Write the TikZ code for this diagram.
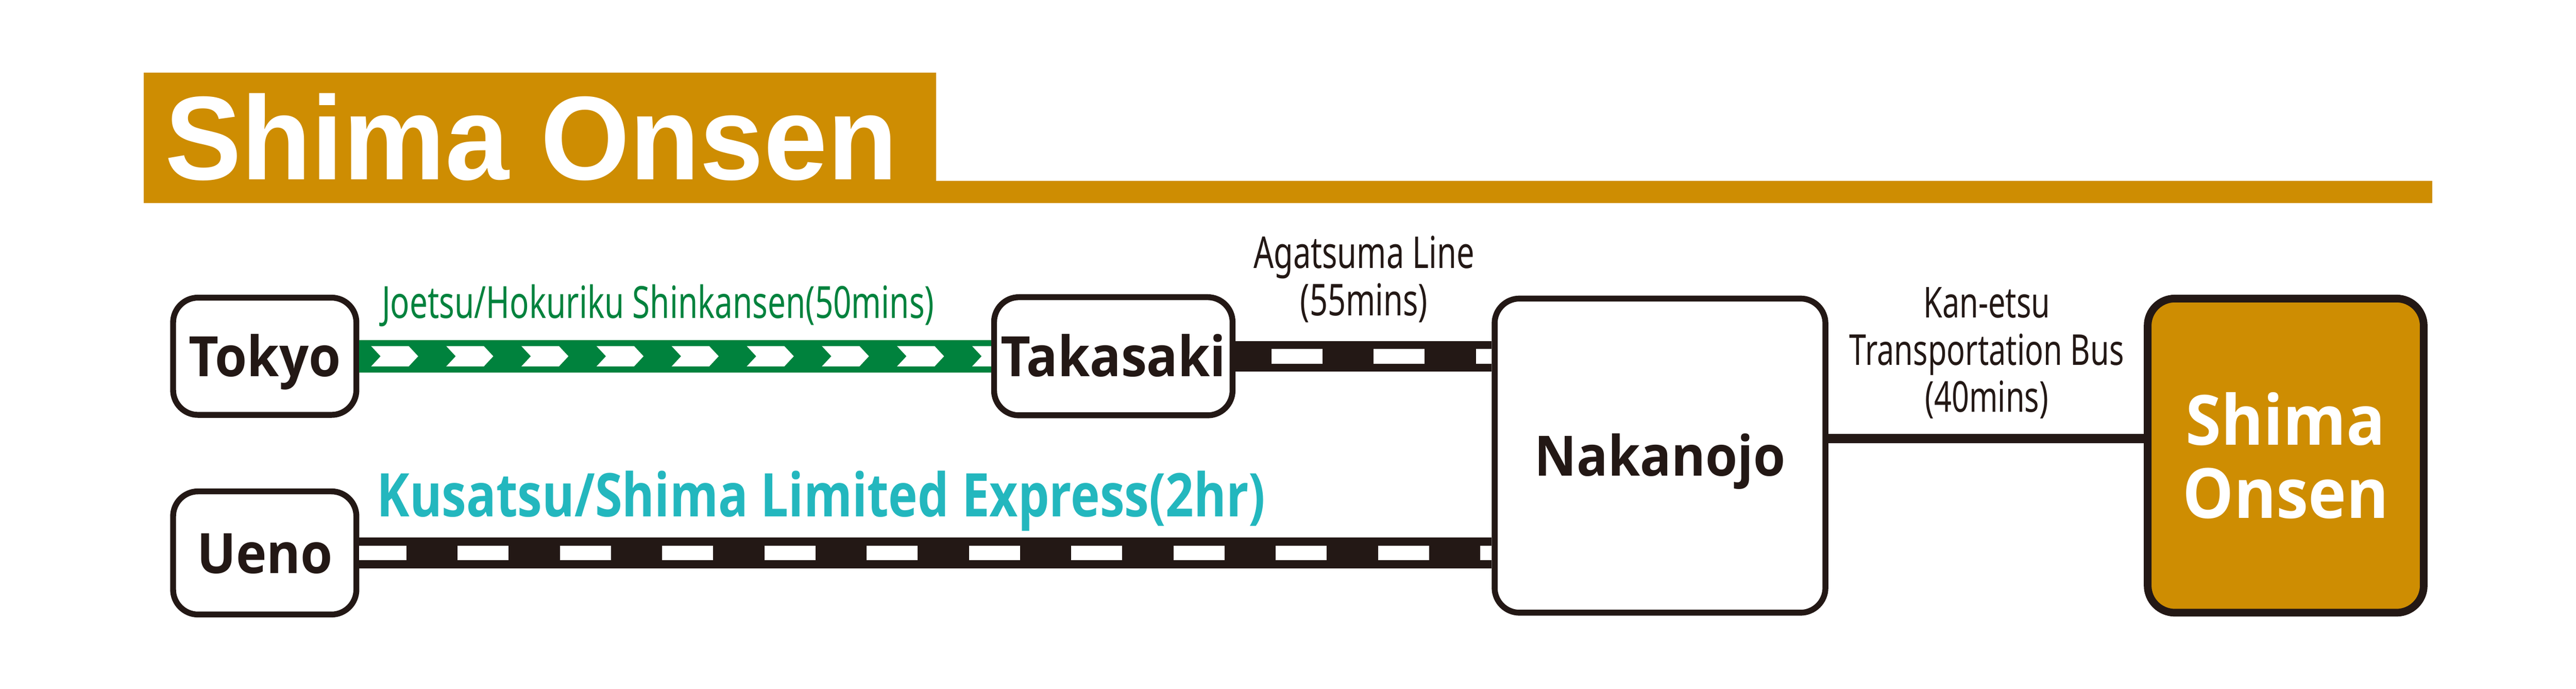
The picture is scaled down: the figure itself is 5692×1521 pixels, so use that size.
\documentclass[tikz,border=0pt]{standalone}
\usepackage{fontspec}
\setmainfont{Noto Sans}
\newfontfamily\titlefont{Liberation Sans}[FakeStretch=0.963]
\newfontfamily\condfont{Noto Sans}[FakeStretch=0.72]
\newfontfamily\kusfont{Open Sans}[FakeStretch=0.82]
\newfontfamily\stfont{Open Sans}[FakeStretch=0.93]
\definecolor{gold}{RGB}{206,141,2}
\definecolor{ink}{RGB}{35,24,21}
\definecolor{jrgreen}{RGB}{0,130,61}
\definecolor{teal}{RGB}{35,183,190}
\begin{document}
\begin{tikzpicture}[x=0.1pt,y=-0.1pt,
  station/.style={draw=ink, line width=1.3pt, fill=white, rounded corners=5.5pt,
    inner sep=0pt, text=ink, text height=9pt, text depth=0pt,
    font={\stfont\bfseries\fontsize{12.3pt}{14pt}\selectfont}},
  linelabel/.style={inner sep=0pt, align=center, text=ink,
    font={\condfont\fontsize{9.7pt}{10.5pt}\selectfont}},
  rail/.style={draw=ink, line width=6.75pt,
    postaction={draw=white, line width=3.3pt, dash pattern=on 11.3pt off 11.3pt, dash phase=#1}},
  chevron/.style={fill=white}
]
\useasboundingbox (0,0) rectangle (5692,1521);
% title
\fill[gold] (318,161) rectangle (2069,449);
\fill[gold] (2069,400) rectangle (5374,449);
\node[anchor=base, inner sep=0pt, text=white,
  font={\titlefont\bfseries\fontsize{26.3pt}{28pt}\selectfont}] (title) at (1174,397) {Shima Onsen};
% stations
\node[station, minimum width=40.5pt, minimum height=25.9pt] (tokyo) at (585,787) {Tokyo};
\node[station, minimum width=52.7pt, minimum height=26.1pt] (takasaki) at (2460,787) {Takasaki};
\node[station, minimum width=40.5pt, minimum height=27.2pt] (ueno) at (585,1221.5) {Ueno};
\node[station, minimum width=73.1pt, minimum height=69.4pt] (nakanojo) at (3668,1006.5) {Nakanojo};
\node[station, draw=ink, fill=gold, line width=1.7pt, rounded corners=6pt, text=white,
  text height=, text depth=, align=center,
  font={\stfont\bfseries\fontsize{15.3pt}{16.1pt}\selectfont},
  minimum width=61pt, minimum height=69.4pt] (shima) at (5050.5,1006.5) {Shima\\Onsen};
% shinkansen
\draw[jrgreen, line width=7.1pt] (tokyo.east) -- (takasaki.west);
\begin{scope}
\clip ([yshift=2.3pt]tokyo.east) rectangle ([yshift=-2.3pt]takasaki.west);
\foreach \i in {0,...,8}{
  \fill[chevron] ({820+166*\i},764.5) -- ++(83,0) -- ++(21,22.5) -- ++(-21,22.5) -- ++(-83,0) -- ++(21,-22.5) -- cycle;
}
\end{scope}
% other lines
\draw[rail=14.7pt] (takasaki.east) -- (takasaki.east -| nakanojo.west);
\draw[rail=0.9pt] (ueno.east) -- (ueno.east -| nakanojo.west);
\draw[ink, line width=2pt] ([yshift=3.75pt]nakanojo.east) -- ([yshift=3.75pt]shima.west);
% labels
\node[linelabel, anchor=base, text=jrgreen, font={\condfont\fontsize{9.8pt}{10.5pt}\selectfont}] (lshin) at (1454,703) {Joetsu/Hokuriku Shinkansen(50mins)};
\node[linelabel, anchor=base, text=teal, font={\kusfont\bfseries\fontsize{13.3pt}{14pt}\selectfont}] (lkus) at (1814.5,1141) {Kusatsu/Shima Limited Express(2hr)};
\node[linelabel, anchor=base] (laga) at (3014,697) {Agatsuma Line\\(55mins)};
\node[linelabel, anchor=base, font={\condfont\fontsize{9.4pt}{10.4pt}\selectfont}] (lbus) at (4390,910) {Kan-etsu\\Transportation Bus\\(40mins)};
\end{tikzpicture}
\end{document}
